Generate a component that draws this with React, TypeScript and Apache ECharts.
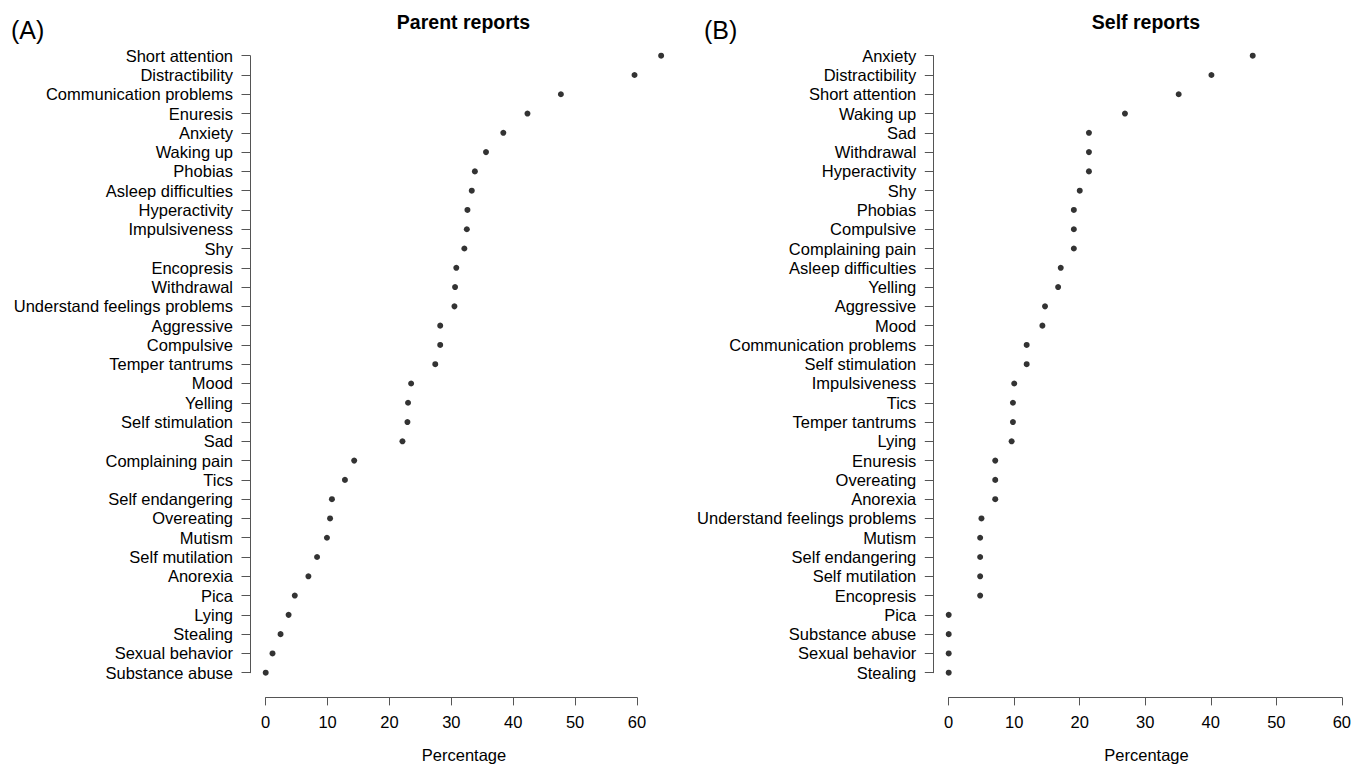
import React, { useEffect, useRef } from "react";
import * as echarts from "echarts";

const parentCategories = [
  "Short attention", "Distractibility", "Communication problems", "Enuresis", "Anxiety",
  "Waking up", "Phobias", "Asleep difficulties", "Hyperactivity", "Impulsiveness", "Shy",
  "Encopresis", "Withdrawal", "Understand feelings problems", "Aggressive", "Compulsive",
  "Temper tantrums", "Mood", "Yelling", "Self stimulation", "Sad", "Complaining pain", "Tics",
  "Self endangering", "Overeating", "Mutism", "Self mutilation", "Anorexia", "Pica", "Lying",
  "Stealing", "Sexual behavior", "Substance abuse",
];
const parentValues = [
  63.9, 59.6, 47.7, 42.3, 38.4, 35.6, 33.8, 33.3, 32.6, 32.5, 32.1, 30.8, 30.6, 30.5, 28.2,
  28.2, 27.4, 23.5, 23.0, 22.9, 22.1, 14.3, 12.8, 10.7, 10.4, 9.9, 8.3, 6.9, 4.7, 3.7, 2.4,
  1.1, 0,
];

const selfCategories = [
  "Anxiety", "Distractibility", "Short attention", "Waking up", "Sad", "Withdrawal",
  "Hyperactivity", "Shy", "Phobias", "Compulsive", "Complaining pain", "Asleep difficulties",
  "Yelling", "Aggressive", "Mood", "Communication problems", "Self stimulation", "Impulsiveness",
  "Tics", "Temper tantrums", "Lying", "Enuresis", "Overeating", "Anorexia",
  "Understand feelings problems", "Mutism", "Self endangering", "Self mutilation", "Encopresis",
  "Pica", "Substance abuse", "Sexual behavior", "Stealing",
];
const selfValues = [
  46.4, 40.1, 35.1, 26.9, 21.4, 21.4, 21.4, 20.0, 19.1, 19.1, 19.1, 17.1, 16.7, 14.7, 14.3,
  11.9, 11.9, 10.0, 9.8, 9.8, 9.6, 7.1, 7.1, 7.1, 5.0, 4.8, 4.8, 4.8, 4.8, 0, 0, 0, 0,
];

const xTicks = [0, 10, 20, 30, 40, 50, 60];

const FONT = '"Liberation Sans", Arial, Helvetica, sans-serif';
const AXIS_COLOR = "#555";

export default function App() {
  const ref = useRef<HTMLDivElement>(null);

  useEffect(() => {
    if (!ref.current) return;
    const chart = echarts.init(ref.current, undefined, { renderer: "svg" });

    const xAxisBase = (gridIndex: number) => ({
      type: "value" as const,
      gridIndex,
      min: xTicks[0],
      max: xTicks[xTicks.length - 1],
      interval: xTicks[1] - xTicks[0],
      offset: 24.7,
      splitLine: { show: false },
      axisLine: { show: true, onZero: false, lineStyle: { color: AXIS_COLOR, width: 1 } },
      axisTick: { show: true, length: 8, lineStyle: { color: AXIS_COLOR, width: 1 } },
      axisLabel: { color: "#000", fontSize: 16.5, fontFamily: FONT, margin: 16 },
    });

    const yAxisBase = (gridIndex: number, data: string[], offset: number) => ({
      type: "category" as const,
      gridIndex,
      data,
      inverse: true,
      boundaryGap: false,
      offset,
      axisLine: { show: true, onZero: false, lineStyle: { color: AXIS_COLOR, width: 1 } },
      axisTick: { show: true, length: 8.5, alignWithLabel: true, lineStyle: { color: AXIS_COLOR, width: 1 } },
      axisLabel: { color: "#000", fontSize: 16.5, fontFamily: FONT, margin: 17, interval: 0 },
      splitLine: { show: false },
    });

    const textEl = (text: string, x: number, y: number, size: number, bold: boolean, align: string) => ({
      type: "text",
      x,
      y,
      style: {
        text,
        fill: "#000",
        font: `${bold ? "bold " : ""}${size}px ${FONT}`,
        align,
        verticalAlign: "middle",
      },
    });

    chart.setOption({
      animation: false,
      backgroundColor: "#fff",
      grid: [
        { left: 265.7, top: 55.7, width: 371.3, height: 617, containLabel: false },
        { left: 948.7, top: 55.7, width: 395.3, height: 617, containLabel: false },
      ],
      xAxis: [xAxisBase(0), xAxisBase(1)],
      yAxis: [
        yAxisBase(0, parentCategories, 15.7),
        yAxisBase(1, selfCategories, 15.4),
      ],
      series: [
        {
          type: "scatter",
          xAxisIndex: 0,
          yAxisIndex: 0,
          clip: false,
          symbol: "circle",
          symbolSize: 6,
          itemStyle: { color: "#000" },
          data: parentCategories.map((c, i) => [parentValues[i], c]),
        },
        {
          type: "scatter",
          xAxisIndex: 1,
          yAxisIndex: 1,
          clip: false,
          symbol: "circle",
          symbolSize: 6,
          itemStyle: { color: "#000" },
          data: selfCategories.map((c, i) => [selfValues[i], c]),
        },
      ],
      graphic: [
        textEl("(A)", 11, 30, 25, false, "left"),
        textEl("(B)", 704, 30, 25, false, "left"),
        textEl("Parent reports", 463.5, 22, 19.5, true, "center"),
        textEl("Self reports", 1146, 22, 19.5, true, "center"),
        textEl("Percentage", 464, 755, 16.5, false, "center"),
        textEl("Percentage", 1146.5, 755, 16.5, false, "center"),
      ],
    });

    return () => chart.dispose();
  }, []);

  return (
    <div
      ref={ref}
      style={{ position: "absolute", left: 0, top: 0, width: 1354, height: 764 }}
    />
  );
}
